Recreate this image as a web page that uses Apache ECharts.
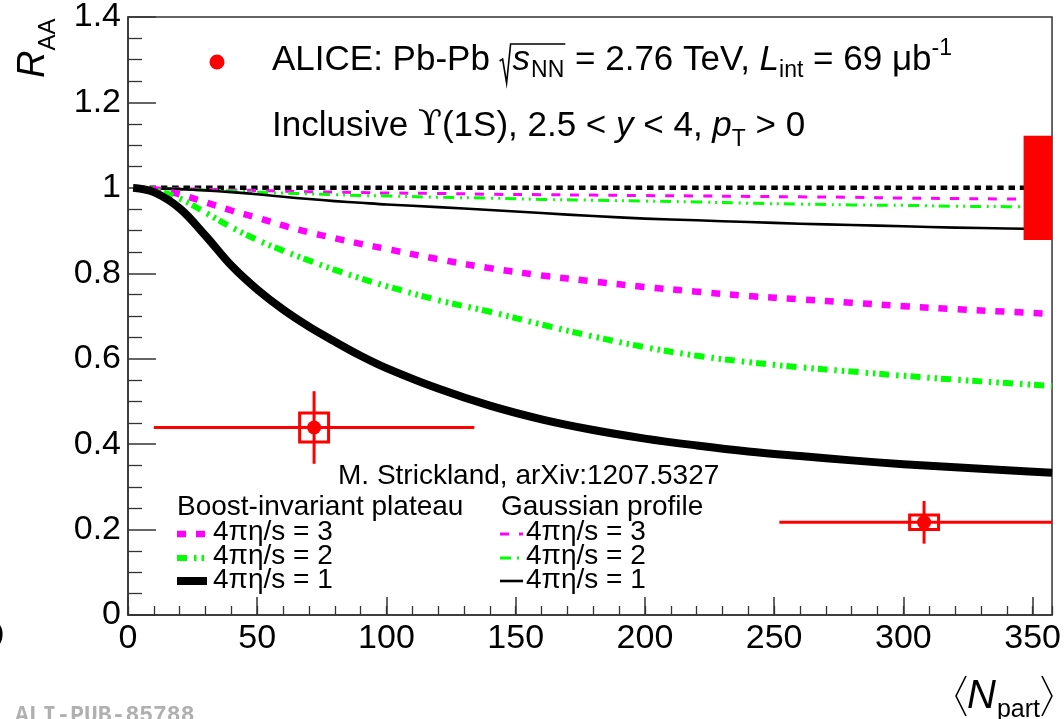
<!DOCTYPE html>
<html><head><meta charset="utf-8">
<script src="https://cdn.jsdelivr.net/npm/echarts@6/dist/echarts.min.js"></script>
<style>html,body{margin:0;padding:0;background:#fff}#c{width:1064px;height:719px}</style>
</head><body><div id="c"></div>
<script>
// ---------------- data ----------------
const npartMin = 0, npartMax = 357.5, npartStep = 50, npartMinorStep = 10;
const raaMin = 0, raaMax = 1.4, raaStep = 0.2;

// common Npart sampling of the model curves
const modelN = [2,10,20,30,40,50,60,70,80,90,100,120,140,160,180,200,220,240,260,280,300,320,340,357.5];

// Boost-invariant plateau (thick)
const plat1R = [1.0,0.99,0.952,0.888,0.818,0.762,0.715,0.675,0.640,0.607,0.578,0.530,0.490,0.458,0.433,0.413,0.397,0.383,0.372,0.362,0.353,0.346,0.339,0.333];
const plat2R = [1.0,0.995,0.975,0.942,0.908,0.878,0.853,0.830,0.808,0.788,0.770,0.737,0.710,0.680,0.652,0.627,0.607,0.592,0.580,0.570,0.560,0.551,0.543,0.536];
const plat3R = [1.0,0.997,0.985,0.966,0.947,0.930,0.912,0.896,0.882,0.869,0.857,0.833,0.812,0.795,0.781,0.768,0.757,0.747,0.739,0.731,0.723,0.716,0.710,0.705];

// Gaussian profile (thin)
const gaus1R = [1.0,0.999,0.997,0.994,0.990,0.985,0.979,0.974,0.969,0.965,0.961,0.955,0.948,0.941,0.934,0.928,0.924,0.920,0.916,0.913,0.910,0.907,0.905,0.903];
const gaus2R = [1.0,0.999,0.997,0.995,0.993,0.990,0.988,0.986,0.984,0.982,0.981,0.978,0.976,0.973,0.971,0.969,0.967,0.964,0.962,0.960,0.959,0.957,0.956,0.955];
const gaus3R = [1.0,0.999,0.998,0.997,0.995,0.994,0.992,0.991,0.990,0.989,0.988,0.987,0.985,0.984,0.983,0.982,0.981,0.980,0.979,0.978,0.976,0.975,0.974,0.973];

// unity reference
const unityN = [4, 357.5];
const unityR = [1, 1];

// ALICE data
const aliceN    = [72, 308];
const aliceR    = [0.439, 0.217];
const aliceNErr = [62, 56];
const aliceStat = [0.085, 0.05];
const aliceSysN = [5.6, 5.6];
const aliceSysR = [0.034, 0.017];

// global normalisation uncertainty box
const globalN = [346.5, 357.5];
const globalR = [0.878, 1.122];

// ---------------- styles ----------------
const FONT = "'Liberation Sans', Arial, Helvetica, sans-serif";
const SERIF = "'DejaVu Serif', 'Liberation Serif', serif";
const RED = '#ff0000', MAG = '#ff00ff', GRN = '#00ff00', BLK = '#000000', AX = '#333333';
const ST = {
  p1: {color: BLK, width: 8, dash: 'solid'},
  p2: {color: GRN, width: 6, dash: [10, 7, 2.5, 5, 2.5, 4]},
  p3: {color: MAG, width: 6.5, dash: [9, 10]},
  g1: {color: BLK, width: 2.6, dash: 'solid'},
  g2: {color: GRN, width: 3, dash: [11, 6, 2, 5, 2, 5]},
  g3: {color: MAG, width: 3, dash: [9, 10]},
  unity: {color: BLK, width: 4.5, dash: [6.5, 4.8]}
};

const pairs = (xs, ys) => xs.map((x, i) => [x, ys[i]]);
function lineSeries(xs, ys, st, z) {
  return {type: 'line', data: pairs(xs, ys), showSymbol: false, symbol: 'none',
    smooth: 0.35, silent: true, animation: false, z: z,
    lineStyle: {color: st.color, width: st.width, type: st.dash, cap: 'butt', join: 'round'}};
}

// ---------------- text layout helpers ----------------
const mctx = document.createElement('canvas').getContext('2d');
function tw(t, size, italic, fam) {
  mctx.font = (italic ? 'italic ' : '') + size + 'px ' + (fam || FONT);
  return mctx.measureText(t).width;
}
const MID = 0.347;
const G = [];
function run(x0, base, parts) {
  let x = x0;
  for (const p of parts) {
    const fam = p.f || FONT;
    G.push({type: 'text', x: x, y: base + (p.dy || 0) - MID * p.s, z: 50, silent: true,
      style: {text: p.t, fontSize: p.s, fontFamily: fam, fontStyle: p.i ? 'italic' : 'normal',
        fill: p.c || '#000', align: 'left', verticalAlign: 'middle'}});
    x += tw(p.t, p.s, p.i, fam) + (p.a || 0);
  }
  return x;
}

// Header line 1
(function () {
  const S = 35, s = 23, base = 72;
  G.push({type: 'circle', shape: {cx: 217, cy: 62, r: 7.5}, style: {fill: RED}, z: 50, silent: true});
  let x = run(272, base, [{t: 'ALICE: Pb-Pb ', s: S}]);
  const xr = x;
  let x2 = run(xr + 13, base, [{t: 's', s: S, i: true, a: 1}, {t: 'NN', s: s, dy: 7}]);
  G.push({type: 'polyline', z: 50, silent: true, shape: {points: [[xr, base - 11], [xr + 3, base - 13], [xr + 7, base + 11], [xr + 11, base - 28], [x2 + 1, base - 28]]},
    style: {stroke: '#000', lineWidth: 1.6, fill: null}});
  run(x2 + 1, base, [{t: ' = 2.76 TeV, ', s: S}, {t: 'L', s: S, i: true}, {t: 'int', s: s, dy: 7},
    {t: ' = 69 \u03bcb', s: S}, {t: '-1', s: s, dy: -15}]);
})();

// Header line 2
run(272, 138, [{t: 'Inclusive ', s: 35}, {t: '\u03d2', s: 35, f: SERIF}, {t: '(1S), 2.5 < ', s: 35},
  {t: 'y', s: 35, i: true}, {t: ' < 4, ', s: 35}, {t: 'p', s: 35, i: true}, {t: 'T', s: 23, dy: 10}, {t: ' > 0', s: 35}]);

// model reference + legend
run(338, 486, [{t: 'M. Strickland, arXiv:1207.5327', s: 28}]);
run(177, 517, [{t: 'Boost-invariant plateau', s: 28}]);
run(501, 517, [{t: 'Gaussian profile', s: 28}]);
const legRows = [
  {y: 534, base: 542, thick: ST.p3, thin: ST.g3, label: '4\u03c0\u03b7/s = 3'},
  {y: 558, base: 566, thick: ST.p2, thin: ST.g2, label: '4\u03c0\u03b7/s = 2'},
  {y: 581, base: 590, thick: ST.p1, thin: ST.g1, label: '4\u03c0\u03b7/s = 1'}
];
legRows.forEach(r => {
  G.push({type: 'line', z: 50, silent: true, shape: {x1: 177, y1: r.y, x2: 207, y2: r.y},
    style: {stroke: r.thick.color, lineWidth: r.thick.width, lineDash: r.thick.dash === 'solid' ? null : r.thick.dash}});
  G.push({type: 'line', z: 50, silent: true, shape: {x1: 500, y1: r.y, x2: 523, y2: r.y},
    style: {stroke: r.thin.color, lineWidth: r.thin.width, lineDash: r.thin.dash === 'solid' ? null : r.thin.dash}});
  run(213, r.base, [{t: r.label, s: 28}]);
  run(526, r.base, [{t: r.label, s: 28}]);
});

// x-axis title  <N_part>
(function () {
  const xN = 967, base = 711;
  let x = run(xN, base, [{t: 'N', s: 40, i: true, a: 1}, {t: 'part', s: 25, dy: 8}]);
  G.push({type: 'polyline', z: 50, silent: true, shape: {points: [[xN - 1, 676], [xN - 11, 696], [xN - 1, 716]]}, style: {stroke: '#000', lineWidth: 1.6, fill: null}});
  G.push({type: 'polyline', z: 50, silent: true, shape: {points: [[x + 2, 676], [x + 12, 696], [x + 2, 716]]}, style: {stroke: '#000', lineWidth: 1.6, fill: null}});
})();

// y-axis title R_AA (rotated)
(function () {
  const S = 38, s = 24, y0 = 78;
  G.push({type: 'text', x: 47 - MID * S, y: y0, rotation: Math.PI / 2, z: 50, silent: true,
    style: {text: 'R', fontSize: S, fontFamily: FONT, fontStyle: 'italic', fill: '#000', align: 'left', verticalAlign: 'middle'}});
  const w = tw('R', S, true);
  G.push({type: 'text', x: 57 - MID * s, y: y0 - w, rotation: Math.PI / 2, z: 50, silent: true,
    style: {text: 'AA', fontSize: s, fontFamily: FONT, fill: '#000', align: 'left', verticalAlign: 'middle'}});
})();

// stray edge label and publication tag
G.push({type: 'text', x: 4, y: 637, z: 50, silent: true, style: {text: '0', fontSize: 34, fontFamily: FONT, fill: '#000', align: 'right', verticalAlign: 'middle'}});
G.push({type: 'text', x: 15, y: 716, z: 50, silent: true, style: {text: 'ALI-PUB-85788', fontSize: 23, fontWeight: 'bold', fontFamily: "'Liberation Mono', 'DejaVu Sans Mono', monospace", fill: '#b0b0b0', align: 'left', verticalAlign: 'middle'}});

// ---------------- chart ----------------
const chart = echarts.init(document.getElementById('c'), null, {renderer: 'canvas'});
const axisCommon = {
  axisLine: {show: true, onZero: false, lineStyle: {color: AX, width: 1.5}},
  splitLine: {show: false}, minorSplitLine: {show: false}
};
const option = {
  animation: false,
  backgroundColor: '#fff',
  grid: {left: 128, top: 17, right: 10, bottom: 104, show: true, borderColor: AX, borderWidth: 1.5, backgroundColor: 'transparent'},
  xAxis: [
    Object.assign({}, axisCommon, {
      type: 'value', min: npartMin, max: npartMax, interval: npartStep,
      axisTick: {show: true, inside: true, length: 18, lineStyle: {color: AX, width: 1.5}},
      minorTick: {show: false},
      axisLabel: {show: true, fontSize: 34, fontFamily: FONT, color: '#000', margin: 7, showMinLabel: true, showMaxLabel: false}
    }),
    {
      type: 'value', min: npartMin, max: npartMax, interval: npartMinorStep, position: 'bottom',
      axisLine: {show: false}, splitLine: {show: false},
      axisTick: {show: true, inside: true, length: 9, lineStyle: {color: AX, width: 1.3}},
      axisLabel: {show: false}
    }
  ],
  yAxis: Object.assign({}, axisCommon, {
    type: 'value', min: raaMin, max: raaMax, interval: raaStep,
    axisTick: {show: true, inside: true, length: 28, lineStyle: {color: AX, width: 1.5}},
    minorTick: {show: true, splitNumber: 4, length: 14, lineStyle: {color: AX, width: 1.3}},
    axisLabel: {show: true, fontSize: 34, fontFamily: FONT, color: '#000', margin: 7, showMinLabel: true, showMaxLabel: true}
  }),
  graphic: {elements: G},
  series: [
    lineSeries(unityN, unityR, ST.unity, 2),
    lineSeries(modelN, gaus3R, ST.g3, 2),
    lineSeries(modelN, gaus2R, ST.g2, 2),
    lineSeries(modelN, gaus1R, ST.g1, 2),
    lineSeries(modelN, plat3R, ST.p3, 2),
    lineSeries(modelN, plat2R, ST.p2, 2),
    lineSeries(modelN, plat1R, ST.p1, 2),
    {
      type: 'custom', silent: true, animation: false, z: 3,
      data: [[globalN[0], globalN[1], globalR[0], globalR[1]]],
      renderItem: function (params, api) {
        const p0 = api.coord([api.value(0), api.value(3)]);
        const p1 = api.coord([api.value(1), api.value(2)]);
        return {type: 'rect', shape: {x: p0[0], y: p0[1], width: p1[0] - p0[0], height: p1[1] - p0[1]}, style: {fill: RED}};
      }
    },
    {
      type: 'custom', silent: true, animation: false, z: 4,
      data: aliceN.map((n, i) => [n, aliceR[i], aliceNErr[i], aliceStat[i], aliceSysN[i], aliceSysR[i]]),
      renderItem: function (params, api) {
        const cs = params.coordSys;
        const n = api.value(0), r = api.value(1), en = api.value(2), er = api.value(3), sn = api.value(4), sr = api.value(5);
        const c = api.coord([n, r]);
        const xl = Math.max(api.coord([n - en, r])[0], cs.x);
        const xr = Math.min(api.coord([n + en, r])[0], cs.x + cs.width);
        const yt = api.coord([n, r + er])[1], yb = api.coord([n, r - er])[1];
        const b0 = api.coord([n - sn, r + sr]), b1 = api.coord([n + sn, r - sr]);
        return {type: 'group', children: [
          {type: 'line', shape: {x1: xl, y1: c[1], x2: xr, y2: c[1]}, style: {stroke: RED, lineWidth: 3}},
          {type: 'line', shape: {x1: c[0], y1: yt, x2: c[0], y2: yb}, style: {stroke: RED, lineWidth: 3}},
          {type: 'rect', shape: {x: b0[0], y: b0[1], width: b1[0] - b0[0], height: b1[1] - b0[1]}, style: {stroke: RED, lineWidth: 3, fill: 'none'}},
          {type: 'circle', shape: {cx: c[0], cy: c[1], r: 7}, style: {fill: RED}}
        ]};
      }
    }
  ]
};
chart.setOption(option);
</script>
</body></html>
